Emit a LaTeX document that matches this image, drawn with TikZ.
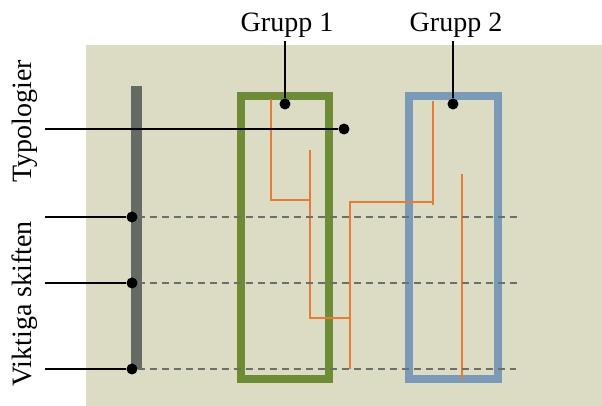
\documentclass[tikz,border=0pt]{standalone}
\usepackage{fontspec}
\setmainfont{Liberation Serif}
\definecolor{paper}{HTML}{DCDCC4}
\definecolor{axisgray}{HTML}{636B62}
\definecolor{gridgray}{HTML}{6B7068}
\definecolor{groupgreen}{HTML}{6E8B35}
\definecolor{groupblue}{HTML}{7A9AB8}
\definecolor{trackorange}{HTML}{E87B35}
\begin{document}
\begin{tikzpicture}[
    x=0.5pt, y=-0.5pt,
    dot/.style={circle, fill=black, inner sep=0pt, minimum size=5.5pt},
    label/.style={font=\fontsize{14}{16}\selectfont, inner sep=0pt},
    lead/.style={line width=1.2pt},
    shiftline/.style={draw=gridgray, line width=1.3pt, dash pattern=on 3.5pt off 2.5pt},
    track/.style={draw=trackorange, line width=1.2pt},
    groupbox/.style={line width=4pt},
    ]
    \useasboundingbox (0,0) rectangle (602,406);

    %Background
    \fill[paper] (86,45) rectangle (602,406);
    \fill[axisgray] (131,86) rectangle (142,369);

    %Groups
    \draw[groupbox, groupgreen] (241,96) rectangle (329,379);
    \draw[groupbox, groupblue] (409,96) rectangle (498,379);

    %Tracks
    \draw[track] (271,99) |- (310,200);
    \draw[track] (310,150) |- (350,318);
    \draw[track] (350,369) |- (433,202);
    \draw[track] (433,205) -- (433,101);
    \draw[track] (462,174) -- (462,379);

    %Nodes
    \node[label, anchor=base] at (287,32) (g1) {Grupp 1};
    \node[label, anchor=base] at (456,32) (g2) {Grupp 2};
    \node[label, rotate=90] at (25,121) (typ) {Typologier};
    \node[label, rotate=90] at (25,304) (vik) {Viktiga skiften};
    \node[dot] at (285,104) (g1dot) {};
    \node[dot] at (453,104) (g2dot) {};
    \node[dot] at (344,129) (typdot) {};
    \node[dot] at (132,217) (s1) {};
    \node[dot] at (132,283) (s2) {};
    \node[dot] at (132,369) (s3) {};
    \coordinate (typ0) at (45,129);
    \coordinate (s1a) at (45,217);
    \coordinate (s2a) at (45,283);
    \coordinate (s3a) at (45,369);
    \coordinate (s1b) at (521,217);
    \coordinate (s2b) at (521,283);
    \coordinate (s3b) at (516,369);

    %Dashed lines
    \draw[shiftline] (s1) -- (s1b);
    \draw[shiftline] (s2) -- (s2b);
    \draw[shiftline] (s3) -- (s3b);

    %Lines
    \draw[lead] (g1dot) -- ([yshift=-1.5pt]g1dot |- g1.south);
    \draw[lead] (g2dot) -- ([yshift=-1.5pt]g2dot |- g2.south);
    \draw[lead] (typ0) -- (typdot);
    \draw[lead] (s1a) -- (s1);
    \draw[lead] (s2a) -- (s2);
    \draw[lead] (s3a) -- (s3);
\end{tikzpicture}
\end{document}
